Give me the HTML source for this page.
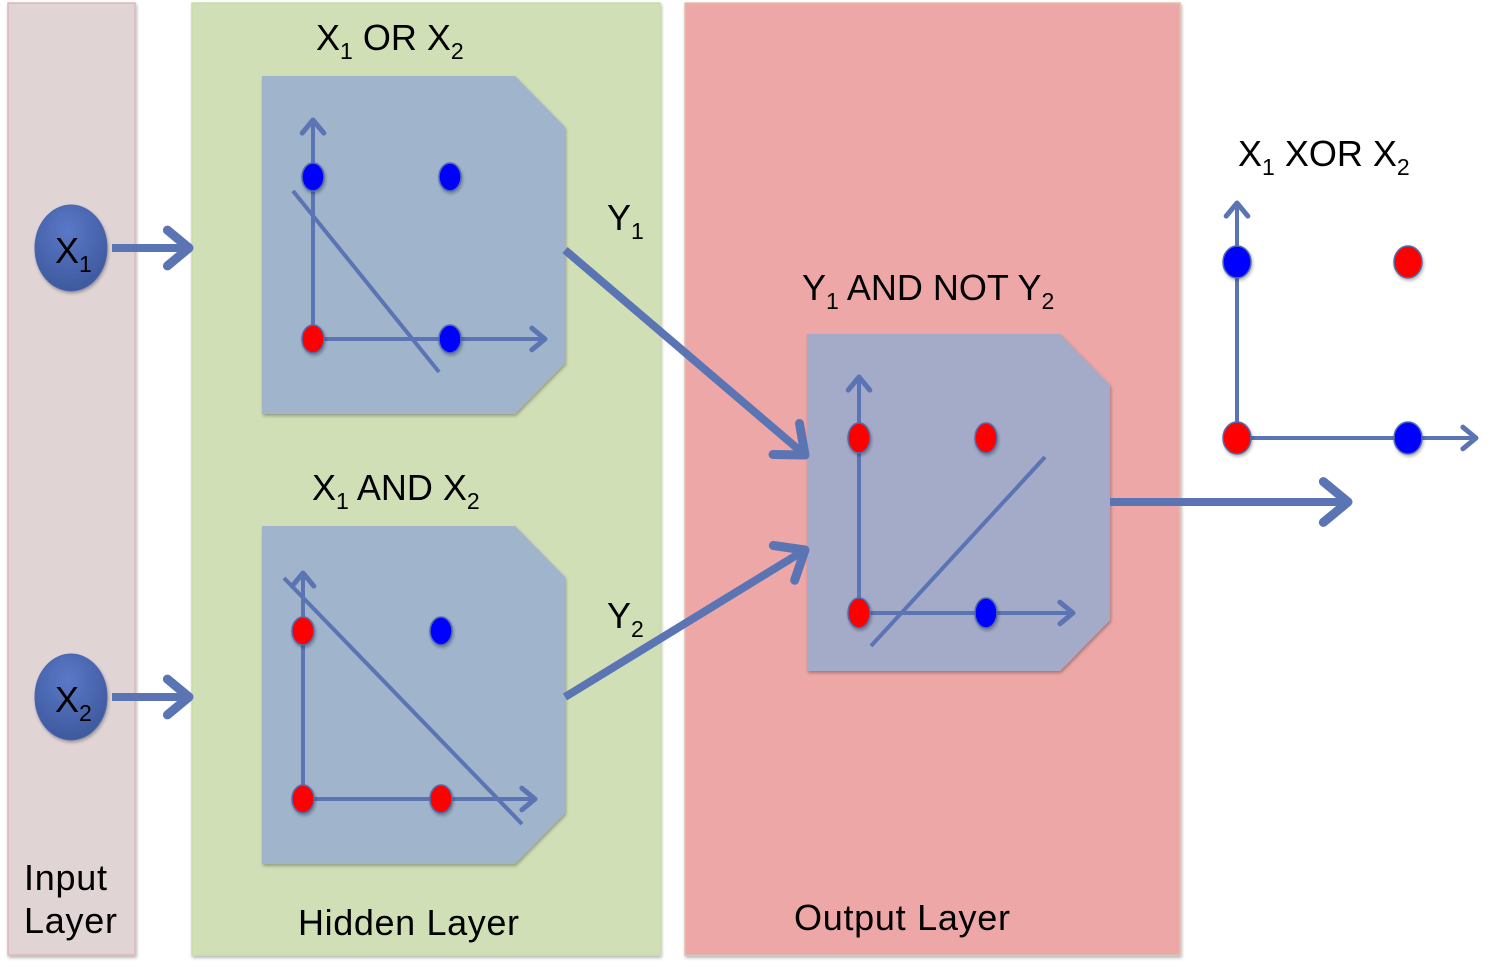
<!DOCTYPE html>
<html><head><meta charset="utf-8"><style>
html,body{margin:0;padding:0;background:#fff;}
svg{display:block;font-family:"Liberation Sans",sans-serif;}
</style></head><body>
<svg id="chart" width="1504" height="966" viewBox="0 0 1504 966">
<defs>
<radialGradient id="nodeGrad" cx="0.45" cy="0.3" r="0.8">
<stop offset="0" stop-color="#5a78c8"/><stop offset="1" stop-color="#3a5597"/>
</radialGradient>
<filter id="sh" x="-10%" y="-10%" width="130%" height="130%"><feDropShadow dx="1" dy="2" stdDeviation="1.5" flood-opacity="0.3"/></filter>
</defs>
<rect x="8" y="3" width="127" height="952" fill="#e0d4d5" stroke="#dfb4b8" stroke-width="1.5" filter="url(#sh)"/>
<rect x="192" y="3" width="468" height="952" fill="#d1dfb7" stroke="#c8dea4" stroke-width="1.5" filter="url(#sh)"/>
<rect x="685" y="3" width="495" height="952" fill="#eea7a7" stroke="#dcc0b0" stroke-width="1.5" filter="url(#sh)"/>

<text x="24" y="890" font-size="36" textLength="83">Input</text>
<text x="24" y="933" font-size="36" textLength="93">Layer</text>
<text x="298" y="935" font-size="36" textLength="221">Hidden Layer</text>
<text x="794" y="930" font-size="36" textLength="216">Output Layer</text>

<g id="panels"></g>
<g id="arrows"></g>

<text x="316" y="50" font-size="36">X<tspan font-size="23" dy="9">1</tspan><tspan dy="-9"> OR X</tspan><tspan font-size="23" dy="9">2</tspan></text>
<text x="312" y="500" font-size="36">X<tspan font-size="23" dy="9">1</tspan><tspan dy="-9"> AND X</tspan><tspan font-size="23" dy="9">2</tspan></text>
<text x="802" y="300" font-size="36">Y<tspan font-size="23" dy="9">1</tspan><tspan dy="-9"> AND NOT Y</tspan><tspan font-size="23" dy="9">2</tspan></text>
<text x="1238" y="166" font-size="36">X<tspan font-size="23" dy="9">1</tspan><tspan dy="-9"> XOR X</tspan><tspan font-size="23" dy="9">2</tspan></text>
<text x="607" y="230" font-size="36">Y<tspan font-size="23" dy="9">1</tspan></text>
<text x="607" y="628" font-size="36">Y<tspan font-size="23" dy="9">2</tspan></text>

<ellipse cx="71" cy="248" rx="36" ry="43" fill="url(#nodeGrad)" stroke="#4a66b0" filter="url(#sh)"/>
<text x="55" y="263" font-size="36">X<tspan font-size="23" dy="9">1</tspan></text>
<ellipse cx="71" cy="697" rx="36" ry="43" fill="url(#nodeGrad)" stroke="#4a66b0" filter="url(#sh)"/>
<text x="55" y="712" font-size="36">X<tspan font-size="23" dy="9">2</tspan></text>
</svg>
<script>
// Data: inputs (x,y in {0,1}) and class (1 = blue, 0 = red)
const orX = [0, 1, 0, 1];
const orY = [0, 0, 1, 1];
const orClass = [0, 1, 1, 1];
const andX = [0, 1, 0, 1];
const andY = [0, 0, 1, 1];
const andClass = [0, 0, 0, 1];
const andNotX = [0, 1, 0, 1];
const andNotY = [0, 0, 1, 1];
const andNotClass = [0, 1, 0, 0];
const xorX = [0, 1, 0, 1];
const xorY = [0, 0, 1, 1];
const xorClass = [0, 1, 1, 0];

const NS = 'http://www.w3.org/2000/svg';
const AX = '#5b74b4';
function mk(tag, attrs, parent){const e=document.createElementNS(NS,tag);for(const k in attrs)e.setAttribute(k,attrs[k]);parent.appendChild(e);return e;}
const panels = document.getElementById('panels');
const arrows = document.getElementById('arrows');

function chev(g, x, y, dir, s, w){
  const a1 = dir + Math.PI*0.78, a2 = dir - Math.PI*0.78;
  return mk('polyline',{points:`${x+s*Math.cos(a1)},${y+s*Math.sin(a1)} ${x},${y} ${x+s*Math.cos(a2)},${y+s*Math.sin(a2)}`,fill:'none',stroke:AX,'stroke-width':w,'stroke-linecap':'round','stroke-linejoin':'round'},g);
}
function arrow(x1,y1,x2,y2,w,s,name){
  const g = mk('g',{},arrows);
  
  
  const d = Math.atan2(y2-y1,x2-x1);
  mk('line',{x1:x1,y1:y1,x2:x2-Math.cos(d)*w*0.6,y2:y2-Math.sin(d)*w*0.6,stroke:AX,'stroke-width':w},g);
  chev(g,x2,y2,d,s,w+1);
}

function panel(px,py,w,h,cut,fill,name){
  const p = mk('polygon',{points:`${px},${py} ${px+w-cut[0]},${py} ${px+w},${py+cut[1]} ${px+w},${py+h-cut[1]} ${px+w-cut[0]},${py+h} ${px},${py+h}`,fill:fill,filter:'url(#sh)'},panels);
  
  
}

function plot(cfg){
  const g = mk('g',{},panels);
  
  
  const sx = v => cfg.ox + v*(cfg.x1 - cfg.ox);
  const sy = v => cfg.oy - v*(cfg.oy - cfg.y1);
  mk('line',{x1:sx(0),y1:sy(0),x2:sx(0),y2:cfg.top+2,stroke:AX,'stroke-width':4},g);
  mk('line',{x1:sx(0),y1:sy(0),x2:cfg.right-2,y2:sy(0),stroke:AX,'stroke-width':4},g);
  chev(g,sx(0),cfg.top,-Math.PI/2,17,5);
  chev(g,cfg.right,sy(0),0,17,5);
  if(cfg.sep){
    const l = mk('line',{x1:cfg.sep[0],y1:cfg.sep[1],x2:cfg.sep[2],y2:cfg.sep[3],stroke:AX,'stroke-width':4},g);
    
    
  }
  for(let i=0;i<cfg.xs.length;i++){
    const e = mk('ellipse',{cx:sx(cfg.xs[i]),cy:sy(cfg.ys[i]),rx:cfg.rx,ry:cfg.ry,fill:cfg.cls[i]?'#0000ff':'#ff0000',stroke:'#4f6cb0','stroke-width':1.5,filter:'url(#sh)'},g);
    
    
  }
}

panel(262,76,303,338,[50,51],'#a0b4cc','or-panel');
panel(262,526,303,338,[50,51],'#a0b4cc','and-panel');
panel(807,334,303,337,[50,51],'#a4abc8','andnot-panel');

plot({name:'or-plot',ox:313,oy:339,x1:450,y1:177,top:120,right:545,xs:orX,ys:orY,cls:orClass,sep:[293,191,439,372],rx:11,ry:14});
plot({name:'and-plot',ox:303,oy:799,x1:441,y1:631,top:573,right:535,xs:andX,ys:andY,cls:andClass,sep:[284,578,522,824],rx:11,ry:14});
plot({name:'andnot-plot',ox:859,oy:613,x1:986,y1:438,top:377,right:1073,xs:andNotX,ys:andNotY,cls:andNotClass,sep:[871,646,1045,457],rx:11,ry:15});
plot({name:'xor-plot',ox:1237,oy:438,x1:1408,y1:262,top:203,right:1476,xs:xorX,ys:xorY,cls:xorClass,sep:null,rx:14,ry:16});

arrow(112,248,189,248,8,28,'x1-arrow');
arrow(112,697,189,697,8,28,'x2-arrow');
arrow(565,250,805,455,8,32,'y1-arrow');
arrow(565,697,805,550,8,32,'y2-arrow');
arrow(1110,502,1348,502,8,32,'output-arrow');
</script>
</body></html>
